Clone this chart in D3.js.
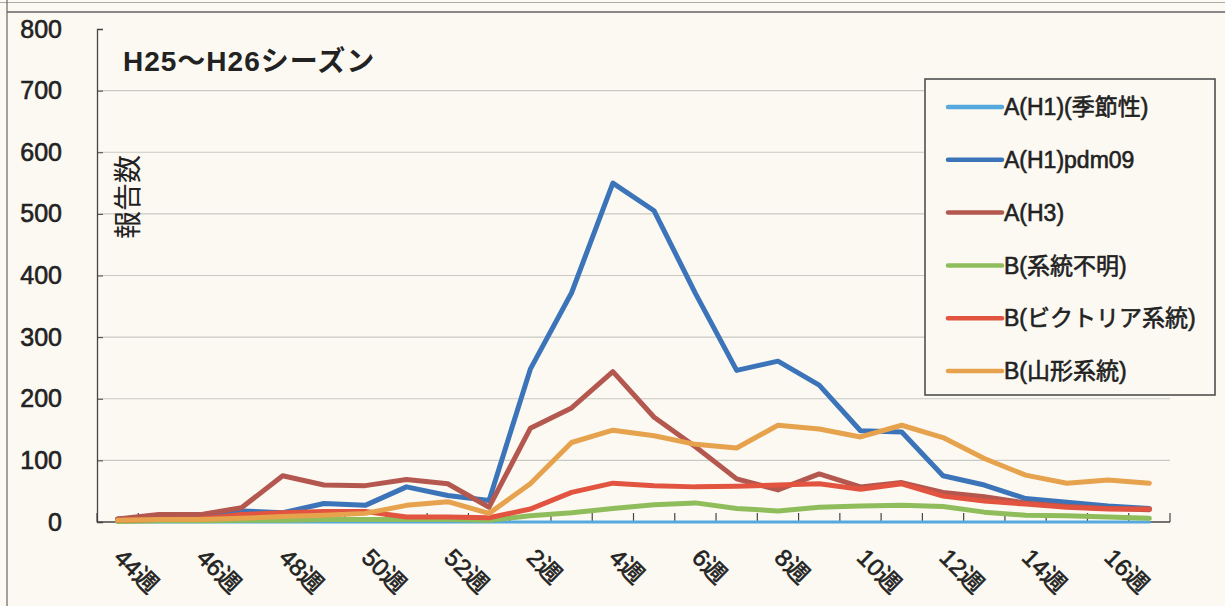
<!DOCTYPE html>
<html>
<head>
<meta charset="utf-8">
<script src="https://cdn.jsdelivr.net/npm/d3@7"></script>
<style>
  html, body { margin: 0; padding: 0; background: #fbf9f1; }
  svg { display: block; }
  text { font-family: "Liberation Sans", Arial, "Noto Sans CJK JP", sans-serif; fill: #222; }
  .heavy { stroke: #222; stroke-width: 0.6px; }
</style>
</head>
<body>
<svg id="chart" width="1225" height="606"></svg>
<script>
// ---- data ----
const weeks = ["44週","45週","46週","47週","48週","49週","50週","51週","52週",
  "1週","2週","3週","4週","5週","6週","7週","8週","9週","10週","11週","12週","13週","14週","15週","16週","17週"];
const yTicks = [0,100,200,300,400,500,600,700,800];
const seriesNames = ["A(H1)(季節性)","A(H1)pdm09","A(H3)","B(系統不明)","B(ビクトリア系統)","B(山形系統)"];
const h1Seasonal = [0,0,0,0,0,0,0,0,0,0,0,0,0,0,0,0,0,0,0,0,0,0,0,0,0,0];
const h1pdm09   = [5,8,10,18,15,30,27,57,43,35,248,372,550,505,371,246,261,222,148,146,75,60,38,32,26,22];
const h3        = [5,12,12,23,75,60,59,69,62,24,152,185,244,170,122,70,52,78,57,64,48,41,31,25,22,20];
const bUnknown  = [1,2,2,3,3,4,4,4,4,3,10,15,22,28,31,22,18,24,26,27,25,16,11,10,8,6];
const bVictoria = [3,4,5,12,15,17,17,8,8,7,21,48,63,59,57,58,60,62,53,62,42,34,29,24,21,21];
const bYamagata = [3,4,4,6,9,11,14,27,33,14,62,129,149,140,126,120,157,151,138,157,137,103,76,63,68,63];
const seriesValues = [h1Seasonal,h1pdm09,h3,bUnknown,bVictoria,bYamagata];
const seriesColors = ["#55a9de","#3c74b9","#b3574f","#8fbd5b","#e2543f","#e6a24c"];
const seriesWidths = [3,5,5,5,5,5];

// ---- layout ----
const svg = d3.select("#chart");
const pLeft = 97, pRight = 1170, pTop = 29, pBottom = 522;

// frame
svg.append("line").attr("x1",0).attr("x2",1225).attr("y1",2.5).attr("y2",2.5).attr("stroke","#aaa").attr("stroke-width",1);
svg.append("line").attr("x1",7).attr("x2",1225).attr("y1",12).attr("y2",12).attr("stroke","#888").attr("stroke-width",2);
svg.append("line").attr("x1",7).attr("x2",7).attr("y1",0).attr("y2",606).attr("stroke","#666").attr("stroke-width",1.2);

const x = d3.scaleBand().domain(weeks).range([pLeft,pRight]).paddingInner(0).paddingOuter(0);
const xc = d => x(d) + x.bandwidth()/2;
const y = d3.scaleLinear().domain([0,800]).range([pBottom,pTop]);

// grid
svg.append("g").selectAll("line").data(yTicks.filter(t => t>0 && t<800)).join("line")
  .attr("x1",pLeft).attr("x2",pRight).attr("y1",d=>y(d)).attr("y2",d=>y(d))
  .attr("stroke","#c9c9c4").attr("stroke-width",1.2);

// y axis
const yAxis = svg.append("g").attr("transform",`translate(${pLeft},0)`)
  .call(d3.axisLeft(y).tickValues(yTicks).tickSize(-6).tickPadding(35).tickFormat(d3.format("d")));
yAxis.select(".domain").attr("stroke","#444").attr("stroke-width",1.3);
yAxis.selectAll(".tick line").attr("stroke","#444");
yAxis.selectAll(".tick text").attr("font-size",25).attr("fill","#222").attr("class","heavy")
  .style("font-family","'Liberation Sans', Arial, sans-serif");

// x axis
const xAxisG = svg.append("g");
xAxisG.append("line").attr("x1",pLeft).attr("x2",pRight).attr("y1",pBottom).attr("y2",pBottom)
  .attr("stroke","#444").attr("stroke-width",1.3);
xAxisG.selectAll("line.tk").data(weeks.map(w=>x(w)).concat([pRight])).join("line").attr("class","tk")
  .attr("x1",d=>d).attr("x2",d=>d).attr("y1",pBottom).attr("y2",pBottom-9)
  .attr("stroke","#444").attr("stroke-width",1.2);
xAxisG.selectAll("text").data(weeks.filter((w,i)=>i%2===0)).join("text")
  .attr("class","heavy")
  .attr("transform",d=>`translate(${xc(d)-5},559) rotate(45)`)
  .attr("text-anchor","start").attr("font-size",24).text(d=>d);

// lines
const line = d3.line().x((d,i)=>xc(weeks[i])).y(d=>y(d));
svg.append("g").selectAll("path").data(seriesValues).join("path")
  .attr("d",d=>line(d)).attr("fill","none")
  .attr("stroke",(d,i)=>seriesColors[i]).attr("stroke-width",(d,i)=>seriesWidths[i])
  .attr("stroke-linejoin","round").attr("stroke-linecap","round");

// title
svg.append("text").attr("x",123).attr("y",71).attr("font-size",28).attr("font-weight","bold")
  .attr("letter-spacing",1).text("H25～H26シーズン");

// y label
svg.append("text").attr("transform","translate(138,197) rotate(-90)").attr("text-anchor","middle")
  .attr("font-size",28).style("font-family","'Noto Sans CJK JP', sans-serif").text("報告数");

// legend
const lg = svg.append("g");
lg.append("rect").attr("x",925).attr("y",79).attr("width",290).attr("height",316)
  .attr("fill","#fbf9f1").attr("stroke","#444").attr("stroke-width",1.5);
const items = lg.selectAll("g.it").data(seriesNames).join("g").attr("class","it")
  .attr("transform",(d,i)=>`translate(0,${107 + i*52.8})`);
items.append("line").attr("x1",948).attr("x2",1002).attr("y1",0).attr("y2",0)
  .attr("stroke",(d,i)=>seriesColors[i]).attr("stroke-width",4.5).attr("stroke-linecap","round");
items.append("text").attr("class","heavy").attr("x",1004).attr("y",0).attr("dy","0.36em")
  .attr("font-size",23).text(d=>d);
</script>
</body>
</html>
